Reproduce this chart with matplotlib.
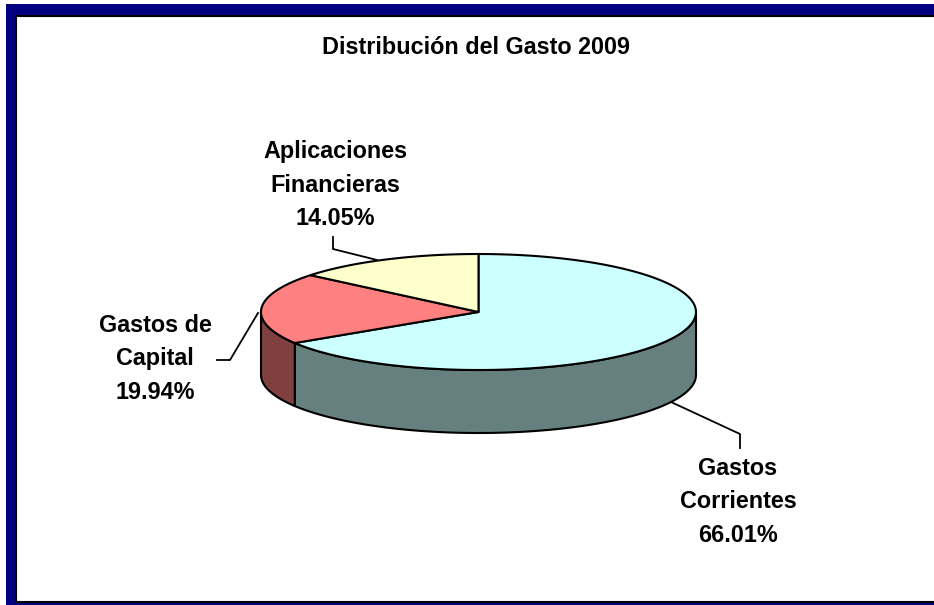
import numpy as np
import matplotlib.pyplot as plt
import matplotlib.patches as patches

# datos
categorias = ['Gastos\nCorrientes', 'Gastos de\nCapital', 'Aplicaciones\nFinancieras']
porcentajes = [66.01, 19.94, 14.05]
colores_sup = ['#CCFFFF', '#FF8080', '#FFFFCC']
colores_lado = ['#668080', '#804040', '#808066']
titulo = 'Distribución del Gasto 2009'

W, H = 934, 605
fig = plt.figure(figsize=(W / 100, H / 100), dpi=100)
ax = fig.add_axes([0, 0, 1, 1])
ax.set_xlim(0, W)
ax.set_ylim(H, 0)
ax.axis('off')

# marco azul
ax.add_patch(patches.Rectangle((6, 4), W + 10, H + 10, facecolor='#000080', edgecolor='none'))
ax.add_patch(patches.Rectangle((15.5, 15.5), W + 10, 586, facecolor='white', edgecolor='black', linewidth=1.5))

# geometria del pastel 3D
cx, cy = 478.5, 312
a, b = 217.5, 58
prof = 63

def punto(t, dy=0):
    r = np.radians(t)
    return cx + a * np.cos(r), cy - b * np.sin(r) + dy

# angulos: desde arriba (90) en sentido horario
limites = [90.0]
for p in porcentajes:
    limites.append(limites[-1] - p / 100 * 360)

# paredes frontales (sin < 0 -> angulos entre -180 y 0)
for i in range(len(porcentajes)):
    t1, t2 = limites[i], limites[i + 1]
    lo, hi = max(t2, -180), min(t1, 0)
    if hi <= lo:
        continue
    ts = np.linspace(hi, lo, 80)
    arriba = [punto(t) for t in ts]
    abajo = [punto(t, prof) for t in ts[::-1]]
    ax.add_patch(patches.Polygon(arriba + abajo, closed=True, facecolor=colores_lado[i],
                                 edgecolor='black', linewidth=1.5, joinstyle='round'))

# caras superiores
for i in range(len(porcentajes)):
    t1, t2 = limites[i], limites[i + 1]
    ts = np.linspace(t1, t2, 120)
    pts = [(cx, cy)] + [punto(t) for t in ts]
    ax.add_patch(patches.Polygon(pts, closed=True, facecolor=colores_sup[i],
                                 edgecolor='black', linewidth=1.5, joinstyle='round'))

fuente = dict(family=['Liberation Sans', 'DejaVu Sans'], fontweight='bold', fontsize=16.8)

ax.text(476, 48, titulo, ha='center', va='center', **fuente)

# etiquetas y lineas guia
pos_etq = [(738, 502), (155, 359), (335, 185)]
guias = [
    [(671, 402), (740, 434), (740, 448)],
    [(217, 360), (230, 360), (258, 313)],
    [(333, 237), (333, 249), (377, 260)],
]
for i, cat in enumerate(categorias):
    txt = f'{cat}\n{porcentajes[i]:.2f}%'
    ax.text(pos_etq[i][0], pos_etq[i][1], txt, ha='center', va='center',
            linespacing=1.58, **fuente)
    xs, ys = zip(*guias[i])
    ax.plot(xs, ys, color='black', linewidth=1.3)

fig.savefig('out.png', dpi=100)
